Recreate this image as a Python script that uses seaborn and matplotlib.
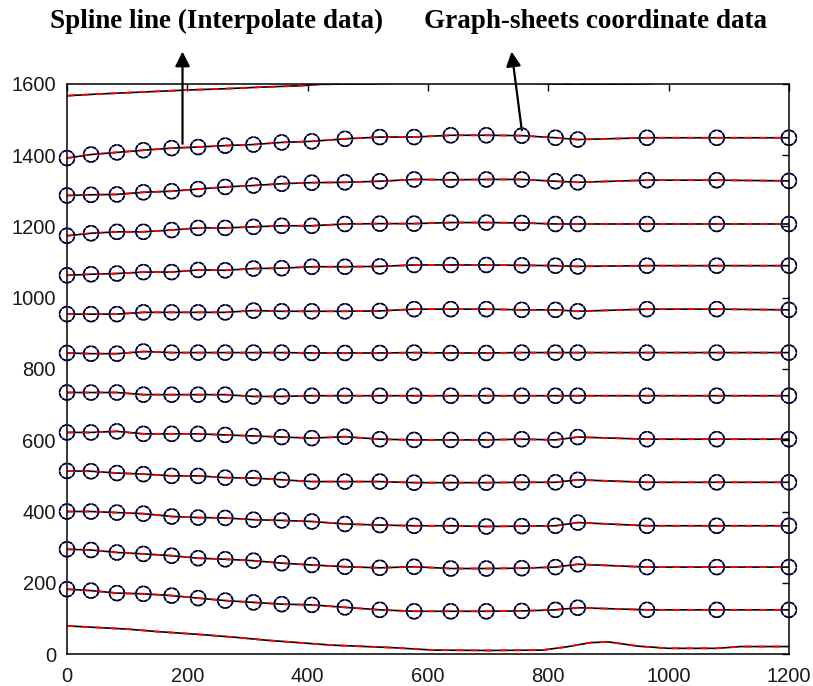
import numpy as np
import pandas as pd
import matplotlib
matplotlib.use("Agg")
import matplotlib.pyplot as plt
import seaborn as sns

# ---- data ----
x_pts = [0, 40, 83, 127, 174, 218, 263, 310, 357, 407, 462, 520, 577, 638, 697, 756, 812, 849, 964, 1080, 1200]

row_01 = [1392, 1402, 1408, 1414, 1420, 1423, 1427, 1430, 1436, 1439, 1446, 1451, 1451, 1456, 1456, 1455, 1449, 1444, 1449, 1449, 1449]
row_02 = [1287, 1289, 1290, 1296, 1299, 1305, 1311, 1315, 1320, 1323, 1324, 1327, 1332, 1331, 1332, 1332, 1327, 1324, 1330, 1330, 1328]
row_03 = [1174, 1181, 1185, 1185, 1190, 1196, 1196, 1199, 1202, 1202, 1207, 1208, 1208, 1211, 1211, 1210, 1207, 1207, 1207, 1207, 1207]
row_04 = [1063, 1066, 1068, 1072, 1072, 1078, 1077, 1082, 1083, 1087, 1087, 1088, 1092, 1092, 1092, 1091, 1090, 1088, 1090, 1090, 1090]
row_05 = [954, 954, 954, 959, 959, 959, 959, 964, 962, 962, 962, 963, 968, 968, 968, 966, 966, 962, 968, 968, 966]
row_06 = [845, 843, 843, 849, 846, 846, 846, 846, 846, 845, 845, 845, 846, 845, 845, 846, 846, 846, 846, 846, 846]
row_07 = [734, 734, 734, 728, 728, 728, 728, 723, 723, 725, 725, 725, 725, 725, 725, 725, 725, 725, 725, 725, 725]
row_08 = [622, 622, 625, 618, 618, 618, 615, 612, 609, 606, 610, 603, 601, 601, 601, 603, 601, 609, 603, 603, 603]
row_09 = [514, 513, 508, 505, 500, 500, 495, 494, 489, 484, 484, 484, 481, 481, 481, 482, 482, 489, 482, 482, 482]
row_10 = [400, 400, 397, 394, 386, 383, 382, 377, 375, 372, 365, 362, 360, 360, 358, 359, 360, 369, 360, 360, 360]
row_11 = [294, 292, 285, 281, 276, 269, 266, 262, 255, 250, 245, 242, 245, 240, 240, 241, 244, 252, 244, 244, 244]
row_12 = [182, 178, 171, 169, 164, 157, 150, 145, 140, 138, 131, 124, 120, 120, 120, 121, 124, 130, 124, 124, 124]

top_x = [0, 55, 121, 199, 254, 321, 387, 420, 507, 600, 700, 780, 830, 940, 980, 1100, 1200]
top_y = [1567, 1572, 1577, 1583, 1586, 1591, 1595, 1599, 1600.5, 1604, 1605, 1602, 1599.5, 1599.5, 1602, 1606, 1606]

bottom_x = [0, 100, 150, 220, 280, 330, 385, 440, 540, 610, 700, 790, 830, 870, 900, 950, 1000, 1080, 1120, 1200]
bottom_y = [79, 70, 63, 55, 47, 39, 32, 25, 18, 11, 10, 11, 20, 32, 34, 22, 16, 16, 21, 21]

x_ticks = [0, 200, 400, 600, 800, 1000, 1200]
y_ticks = [0, 200, 400, 600, 800, 1000, 1200, 1400, 1600]

label_spline = "Spline line (Interpolate data)"
label_graph = "Graph-sheets coordinate data"

# ---- build tables ----
rows = [row_01, row_02, row_03, row_04, row_05, row_06,
        row_07, row_08, row_09, row_10, row_11, row_12]
pts = pd.DataFrame({
    "x": np.tile(x_pts, len(rows)),
    "y": np.concatenate(rows),
    "row": np.repeat(np.arange(len(rows)), len(x_pts)),
})
edge = pd.concat([
    pd.DataFrame({"x": top_x, "y": top_y, "row": 100}),
    pd.DataFrame({"x": bottom_x, "y": bottom_y, "row": 101}),
])
lines = pd.concat([pts, edge], ignore_index=True)

sns.set_style("white")
plt.rcParams["font.family"] = ["Liberation Sans", "DejaVu Sans"]

fig = plt.figure(figsize=(8.13, 6.86), dpi=100)
ax = fig.add_axes([0.0824, 0.0466, 0.888, 0.831])

sns.lineplot(data=lines, x="x", y="y", units="row", estimator=None, sort=False,
             color="black", lw=1.2, ax=ax, legend=False)
n_black = len(ax.lines)
sns.lineplot(data=lines, x="x", y="y", units="row", estimator=None, sort=False,
             color="#ff0000", lw=1.3, ax=ax, legend=False)
for ln in ax.lines[n_black:]:
    ln.set_dashes((4, 4))

sns.scatterplot(data=pts, x="x", y="y", ax=ax, s=115, marker="o",
                facecolor="none", edgecolor="#2020cc", linewidth=1.0,
                legend=False, zorder=4, clip_on=False)
sc = ax.scatter(pts["x"], pts["y"], s=115, marker="o", facecolors="none",
                edgecolors="black", linewidths=1.2, zorder=5, clip_on=False)
sc.set_linestyle((0, (2.6, 1.0)))

ax.set_xlim(0, 1200)
ax.set_ylim(0, 1600)
ax.set_xticks(x_ticks)
ax.set_yticks(y_ticks)
ax.set_xlabel("")
ax.set_ylabel("")
ax.tick_params(direction="in", length=5, width=1, colors="black",
               top=True, right=True, labelsize=14.5, labelcolor="#1a1a1a")
ax.tick_params(axis="y", pad=8)
ax.tick_params(axis="x", pad=9)
for s in ax.spines.values():
    s.set_visible(True)
    s.set_color("black")
    s.set_linewidth(1.1)

# ---- annotations ----
fig.text(217 / 813, 1 - 21 / 686, label_spline, ha="center", va="center",
         fontsize=19.5, fontweight="bold", color="black",
         family=["Liberation Serif", "DejaVu Serif"])
fig.text(595 / 813, 1 - 21 / 686, label_graph, ha="center", va="center",
         fontsize=19.5, fontweight="bold", color="black",
         family=["Liberation Serif", "DejaVu Serif"])
arrow = dict(arrowstyle="-|>", color="black", lw=1.6, mutation_scale=22,
             shrinkA=0, shrinkB=0)
ax.annotate("", xy=(192, 1691), xytext=(192, 1432), arrowprops=arrow,
            annotation_clip=False)
ax.annotate("", xy=(739, 1691), xytext=(756, 1470), arrowprops=arrow,
            annotation_clip=False)

fig.savefig("out.png", dpi=100, facecolor="white")
